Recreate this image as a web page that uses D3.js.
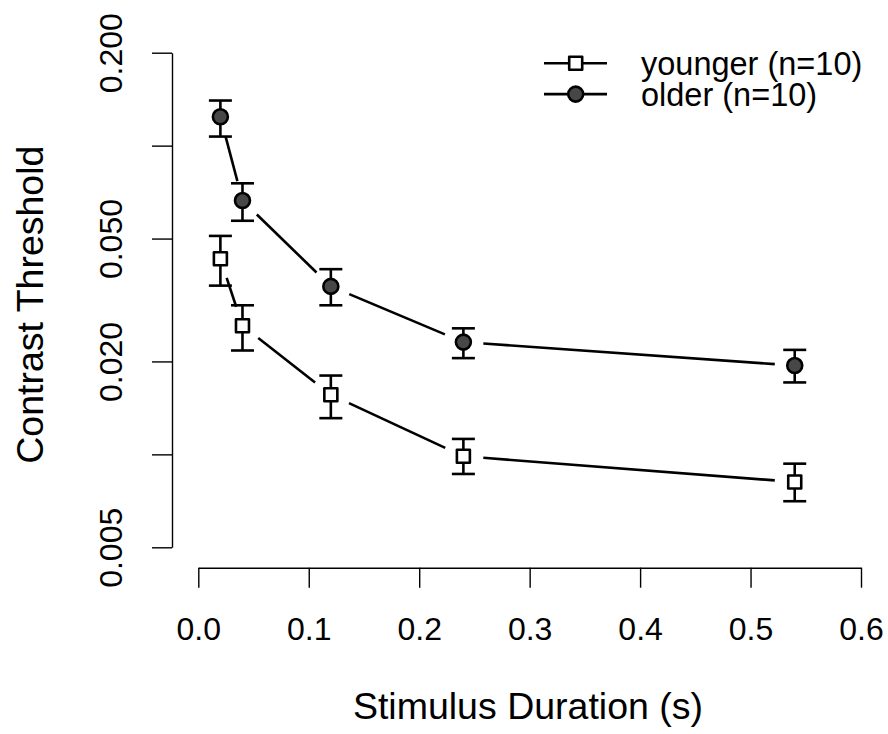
<!DOCTYPE html>
<html>
<head>
<meta charset="utf-8">
<script src="https://cdn.jsdelivr.net/npm/d3@7"></script>
<style>
  body { margin: 0; background: #fff; }
  svg text { font-family: "Liberation Sans", Arial, Helvetica, sans-serif; fill: #000; }
</style>
</head>
<body>
<div id="container"></div>
<script>
// ---------------- data ----------------
const durations = [0.02, 0.04, 0.12, 0.24, 0.54];
const youngerMean = [0.0430, 0.0261, 0.0156, 0.00986, 0.00814];
const youngerLo   = [0.0352, 0.0217, 0.0131, 0.00864, 0.00705];
const youngerHi   = [0.0510, 0.0304, 0.0180, 0.01122, 0.00933];
const olderMean = [0.124, 0.0664, 0.0350, 0.0231, 0.0194];
const olderLo   = [0.107, 0.0571, 0.0304, 0.0205, 0.0171];
const olderHi   = [0.140, 0.0755, 0.0398, 0.0256, 0.0218];
const xTicks = [0, 0.1, 0.2, 0.3, 0.4, 0.5, 0.6];
const yTicks = [0.005, 0.01, 0.02, 0.05, 0.1, 0.2];
const yLabeled = [0.005, 0.02, 0.05, 0.2];
const legendLabels = ['younger (n=10)', 'older (n=10)'];

// ---------------- svg ----------------
const width = 888, height = 734;
const svg = d3.select('#container').append('svg')
  .attr('width', width).attr('height', height);

const x = d3.scaleLinear().domain([0, 0.6]).range([198.3, 861]);
const y = d3.scaleLog().domain([0.005, 0.2]).range([547.3, 52.7]);

// x axis
const gx = svg.append('g').attr('transform', 'translate(0,567.7)')
  .call(d3.axisBottom(x).tickValues(xTicks).tickFormat(d3.format('.1f'))
    .tickSize(20).tickSizeOuter(0));
gx.selectAll('.tick text').attr('y', 72).attr('dy', 0)
  .style('font-size', '32px');

// y axis
const gy = svg.append('g').attr('transform', 'translate(172,0)')
  .call(d3.axisLeft(y).tickValues(yTicks)
    .tickFormat(d => yLabeled.includes(d) ? d3.format('.3f')(d) : '')
    .tickSize(20).tickSizeOuter(0));
gy.selectAll('.tick text')
  .attr('x', 0).attr('dy', 0)
  .attr('transform', 'translate(-50.5,0) rotate(-90)')
  .attr('text-anchor', 'middle')
  .style('font-size', '32px');
svg.selectAll('.domain, .tick line').attr('stroke', '#000').attr('stroke-width', 1.4);

// axis titles
svg.append('text').attr('x', 528).attr('y', 719)
  .attr('text-anchor', 'middle').style('font-size', '37.5px')
  .text('Stimulus Duration (s)');
svg.append('text').attr('transform', 'translate(42.5,304.7) rotate(-90)')
  .attr('text-anchor', 'middle').style('font-size', '37.5px')
  .text('Contrast Threshold');

// ---------------- series ----------------
const gap = 20;
const lw = 2.6;
function drawSeries(mean, lo, hi, shape) {
  const pts = durations.map((d, i) => ({ px: x(d), py: y(mean[i]), lo: y(lo[i]), hi: y(hi[i]) }));
  // type "b" style: segments stop short of the points
  const segs = d3.pairs(pts).map(([a, b]) => {
    const dx = b.px - a.px, dy = b.py - a.py, len = Math.hypot(dx, dy);
    const ux = dx / len, uy = dy / len;
    return [a.px + ux * gap, a.py + uy * gap, b.px - ux * gap, b.py - uy * gap];
  });
  svg.append('g').selectAll('line').data(segs).enter().append('line')
    .attr('x1', d => d[0]).attr('y1', d => d[1])
    .attr('x2', d => d[2]).attr('y2', d => d[3])
    .attr('stroke', '#000').attr('stroke-width', lw);

  const eb = svg.append('g').attr('stroke', '#000').attr('stroke-width', lw);
  pts.forEach(p => {
    eb.append('line').attr('x1', p.px).attr('x2', p.px).attr('y1', p.lo).attr('y2', p.hi);
    eb.append('line').attr('x1', p.px - 11.5).attr('x2', p.px + 11.5).attr('y1', p.lo).attr('y2', p.lo);
    eb.append('line').attr('x1', p.px - 11.5).attr('x2', p.px + 11.5).attr('y1', p.hi).attr('y2', p.hi);
  });
  drawMarkers(svg.append('g'), pts, shape);
}

function drawMarkers(g, pts, shape) {
  if (shape === 'square') {
    g.selectAll('rect').data(pts).enter().append('rect')
      .attr('x', d => d.px - 6.5).attr('y', d => d.py - 6.5)
      .attr('width', 13).attr('height', 13)
      .attr('fill', '#fff').attr('stroke', '#000').attr('stroke-width', lw)
      .attr('stroke-linejoin', 'round');
  } else {
    g.selectAll('circle').data(pts).enter().append('circle')
      .attr('cx', d => d.px).attr('cy', d => d.py).attr('r', 7.5)
      .attr('fill', '#474747').attr('stroke', '#000').attr('stroke-width', lw);
  }
}

drawSeries(youngerMean, youngerLo, youngerHi, 'square');
drawSeries(olderMean, olderLo, olderHi, 'circle');

// ---------------- legend ----------------
const legend = svg.append('g');
const shapes = ['square', 'circle'];
legendLabels.forEach((lab, i) => {
  const ly = 63.3 + i * 30.8;
  legend.append('line').attr('x1', 544).attr('x2', 607).attr('y1', ly).attr('y2', ly)
    .attr('stroke', '#000').attr('stroke-width', lw);
  drawMarkers(legend.append('g'), [{ px: 575.7, py: ly }], shapes[i]);
  legend.append('text').attr('x', 641).attr('y', ly + 11.7)
    .style('font-size', '32.5px').text(lab);
});
</script>
</body>
</html>
